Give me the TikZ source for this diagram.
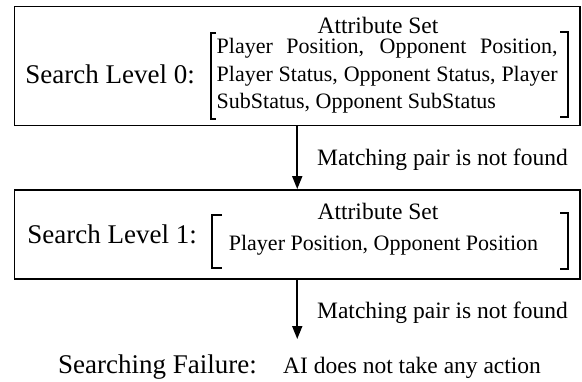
\documentclass[tikz,border=0pt]{standalone}
\usepackage{fontspec}
\setmainfont{Liberation Serif}
\usetikzlibrary{arrows.meta}
\begin{document}
\begin{tikzpicture}[x=1pt,y=-1pt,
           box_style/.style={draw=black,line width=1.9pt,inner sep=0pt},
           level_style/.style={inner sep=0pt,anchor=base east,font=\fontsize{27}{32}\selectfont},
           set_style/.style={inner sep=0pt,anchor=base,font=\fontsize{23.5}{28}\selectfont},
           list_style/.style={inner sep=0pt,font=\fontsize{22}{27.5}\selectfont},
           note_style/.style={inner sep=0pt,anchor=base west,font=\fontsize{23.5}{28}\selectfont},
           arrow_style/.style={draw=black,line width=1.8pt,-{Triangle[length=13pt,width=10pt]}},
           bracket_style/.style={draw=black,line width=1.7pt}]
            \useasboundingbox (0,0) rectangle (582,381);
            % level 0
            \node[box_style,minimum width=565.5pt,minimum height=119pt] (box0) at (297.25,66) {};
            \node[level_style] (level0) at (195,83) {Search Level 0:};
            \node[set_style] (set0) at (378,33) {Attribute Set};
            \node[list_style,anchor=base west,text width=341pt,align=justify] (list0) at (216.5,53.5)
              {Player Position, Opponent Position,\linebreak Player Status, Opponent Status, Player\linebreak SubStatus, Opponent SubStatus};
            \draw[bracket_style] (216,33) -- (211,33) -- (211,119) -- (216,119);
            \draw[bracket_style] (560,32) -- (568,32) -- (568,117) -- (560,117);
            % level 1
            \node[box_style,minimum width=565.5pt,minimum height=89pt] (box1) at (297.25,234.5) {};
            \node[level_style] (level1) at (197,243) {Search Level 1:};
            \node[set_style] (set1) at (378,219) {Attribute Set};
            \node[list_style,anchor=base] (list1) at (383.5,250) {Player Position, Opponent Position};
            \draw[bracket_style] (222,215) -- (212,215) -- (212,268) -- (222,268);
            \draw[bracket_style] (560,213) -- (568,213) -- (568,269) -- (560,269);
            % failure
            \coordinate (tip) at (297.25,339);
            \node[level_style] (fail) at (257,373) {Searching Failure:};
            \node[note_style] (action) at (283,373) {AI does not take any action};
            % arrows
            \draw[arrow_style] (box0.south) -- (box1.north) node[note_style,pos=0.5,xshift=19pt,yshift=-8pt] (miss0) {Matching pair is not found};
            \draw[arrow_style] (box1.south) -- (tip) node[note_style,pos=0.5,xshift=19pt,yshift=-9pt] (miss1) {Matching pair is not found};
        \end{tikzpicture}
\end{document}
